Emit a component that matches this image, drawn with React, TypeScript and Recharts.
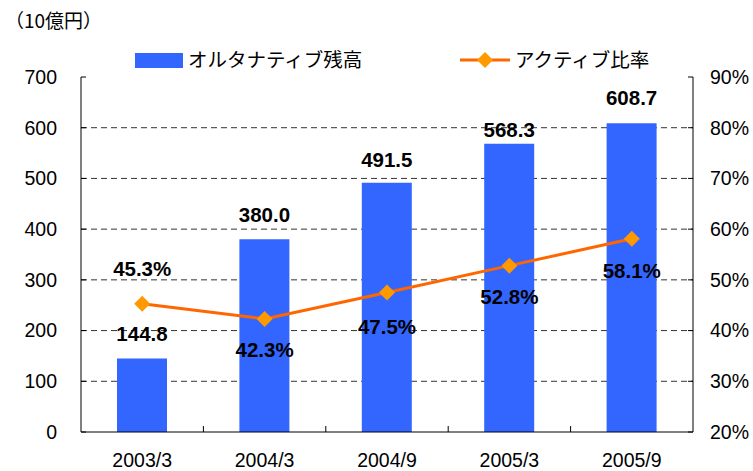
import { Bar, CartesianGrid, ComposedChart, LabelList, Line, XAxis, YAxis } from 'recharts';

const periods = ['2003/3', '2004/3', '2004/9', '2005/3', '2005/9'];
const balance = [144.8, 380.0, 491.5, 568.3, 608.7];
const activeRatio = [45.3, 42.3, 47.5, 52.8, 58.1];
const leftTicks = [0, 100, 200, 300, 400, 500, 600, 700];
const rightTicks = [20, 30, 40, 50, 60, 70, 80, 90];
const gridValues = [100, 200, 300, 400, 500, 600];

// hand-placed label distances (px), as in the source sheet
const barLabelGap = [25, 24, 23, 14, 25];
const lineLabelShift = [-35, 31, 34, 31, 32];

const FONT = '"Liberation Sans", Arial, "Noto Sans CJK JP", sans-serif';
const JP_FONT = '"Noto Sans CJK JP", "Liberation Sans", sans-serif';
const BAR_BLUE = '#3366FF';
const LINE_ORANGE = '#FF6600';
const MARK_ORANGE = '#FF9900';
const TICK_SIZE = 19.5;
const LABEL_SIZE = 20.5;

const data = periods.map((p, i) => ({
  period: p,
  balance: balance[i],
  ratio: activeRatio[i],
}));

function XTick({ x, y, payload }: any) {
  const off = payload?.offset ?? 0;
  return (
    <g>
      <text x={x} y={y + 21} dy="0.71em" textAnchor="middle" fontSize={TICK_SIZE} fill="#000" fontFamily={FONT}>
        {payload.value}
      </text>
      {payload.index < periods.length - 1 && off > 0 && (
        <line x1={x + off} x2={x + off} y1={y} y2={y - 6} stroke="#000" strokeWidth={1} />
      )}
    </g>
  );
}

function LeftTick({ x, y, payload }: any) {
  return (
    <g>
      <text x={x - 24} y={y} dy="0.355em" textAnchor="end" fontSize={TICK_SIZE} fill="#000" fontFamily={FONT}>
        {payload.value}
      </text>
      <line x1={x} x2={x + 5} y1={y} y2={y} stroke="#000" />
    </g>
  );
}

function RightTick({ x, y, payload }: any) {
  return (
    <g>
      <text x={x + 17} y={y} dy="0.355em" textAnchor="start" fontSize={TICK_SIZE} fill="#000" fontFamily={FONT}>
        {`${payload.value}%`}
      </text>
      <line x1={x - 5} x2={x} y1={y} y2={y} stroke="#000" />
    </g>
  );
}

function Diamond({ cx, cy }: any) {
  if (cx == null || cy == null) return null;
  const r = 8;
  return (
    <polygon
      points={`${cx},${cy - r} ${cx + r},${cy} ${cx},${cy + r} ${cx - r},${cy}`}
      fill={MARK_ORANGE}
      stroke="none"
    />
  );
}

function BarValue({ x, y, width, value, index }: any) {
  return (
    <text
      x={x + width / 2}
      y={y - barLabelGap[index] + 7}
      textAnchor="middle"
      fontSize={LABEL_SIZE}
      fontWeight="bold"
      fill="#000"
      fontFamily={FONT}
    >
      {Number(value).toFixed(1)}
    </text>
  );
}

function RatioValue({ x, y, value, index }: any) {
  return (
    <text
      x={x}
      y={y + lineLabelShift[index] + 7}
      textAnchor="middle"
      fontSize={LABEL_SIZE}
      fontWeight="bold"
      fill="#000"
      fontFamily={FONT}
    >
      {`${Number(value).toFixed(1)}%`}
    </text>
  );
}

export default function App() {
  return (
    <div style={{ position: 'absolute', left: 0, top: 0, width: 753, height: 471, background: '#fff' }}>
      <ComposedChart
        width={753}
        height={471}
        data={data}
        margin={{ top: 77, right: 0, bottom: 0, left: 0 }}
        barCategoryGap="30%"
      >
        <CartesianGrid
          yAxisId="left"
          vertical={false}
          horizontalValues={gridValues}
          stroke="#333"
          strokeDasharray="6 4"
        />
        <XAxis
          dataKey="period"
          height={39}
          axisLine={{ stroke: '#000' }}
          tickLine={false}
          tickSize={0}
          tickMargin={0}
          tick={<XTick />}
          interval={0}
        />
        <YAxis
          yAxisId="left"
          width={81}
          domain={[0, 700]}
          ticks={leftTicks}
          axisLine={{ stroke: '#000' }}
          tickLine={false}
          tickSize={0}
          tickMargin={0}
          tick={<LeftTick />}
          interval={0}
        />
        <YAxis
          yAxisId="right"
          orientation="right"
          width={60}
          domain={[20, 90]}
          ticks={rightTicks}
          axisLine={{ stroke: '#000' }}
          tickLine={false}
          tickSize={0}
          tickMargin={0}
          tick={<RightTick />}
          interval={0}
        />
        <Bar yAxisId="left" dataKey="balance" fill={BAR_BLUE} barSize={50} isAnimationActive={false}>
          <LabelList dataKey="balance" content={<BarValue />} />
        </Bar>
        <Line
          yAxisId="right"
          dataKey="ratio"
          stroke={LINE_ORANGE}
          strokeWidth={3}
          dot={<Diamond />}
          activeDot={false}
          isAnimationActive={false}
        >
          <LabelList dataKey="ratio" content={<RatioValue />} />
        </Line>
      </ComposedChart>

      <svg width={753} height={90} style={{ position: 'absolute', left: 0, top: 0 }}>
        <text x={5} y={21} dy="0.36em" fontSize={19} fontFamily={JP_FONT} fill="#000">
          （10億円）
        </text>
        <rect x={135} y={53} width={48} height={15} fill={BAR_BLUE} />
        <text x={188} y={60} dy="0.36em" fontSize={19.5} fontFamily={FONT} fill="#000">
          オルタナティブ残高
        </text>
        <line x1={460} x2={510} y1={60} y2={60} stroke={LINE_ORANGE} strokeWidth={3} />
        <polygon points="485,52 493,60 485,68 477,60" fill={MARK_ORANGE} />
        <text x={515} y={60} dy="0.36em" fontSize={19.5} fontFamily={FONT} fill="#000">
          アクティブ比率
        </text>
      </svg>
    </div>
  );
}
